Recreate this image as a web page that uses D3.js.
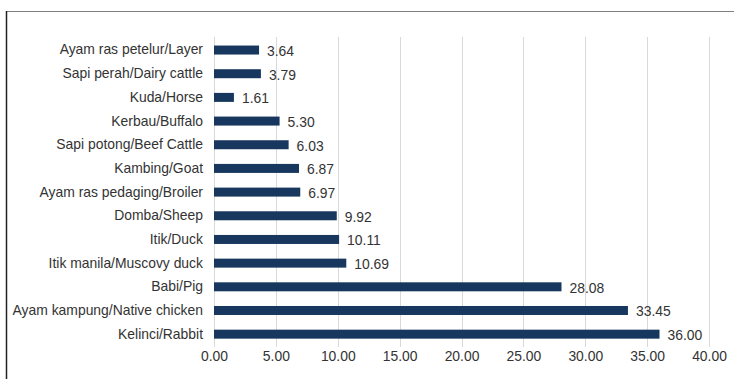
<!DOCTYPE html>
<html>
<head>
<meta charset="utf-8">
<script src="https://cdn.jsdelivr.net/npm/d3@7"></script>
<style>
  html, body { margin: 0; padding: 0; background: #fff; }
  svg { display: block; }
</style>
</head>
<body>
<svg id="chart" width="734" height="379"></svg>
<script>
// Livestock categories, top to bottom
const categories = [
  "Ayam ras petelur/Layer",
  "Sapi perah/Dairy cattle",
  "Kuda/Horse",
  "Kerbau/Buffalo",
  "Sapi potong/Beef Cattle",
  "Kambing/Goat",
  "Ayam ras pedaging/Broiler",
  "Domba/Sheep",
  "Itik/Duck",
  "Itik manila/Muscovy duck",
  "Babi/Pig",
  "Ayam kampung/Native chicken",
  "Kelinci/Rabbit"
];
const values = [3.64, 3.79, 1.61, 5.30, 6.03, 6.87, 6.97, 9.92, 10.11, 10.69, 28.08, 33.45, 36.00];
const xTicks = [0, 5, 10, 15, 20, 25, 30, 35, 40];

const svg = d3.select("#chart");
const font = "'Liberation Sans', Arial, sans-serif";
const fontSize = 13.9;
const textColor = "#333";

// Frame of the chart area
svg.append("line").attr("x1", 6).attr("x2", 734).attr("y1", 11.5).attr("y2", 11.5)
  .attr("stroke", "#7f7f7f").attr("stroke-width", 1.2);
svg.append("line").attr("x1", 6.5).attr("x2", 6.5).attr("y1", 11).attr("y2", 379)
  .attr("stroke", "#222").attr("stroke-width", 1.5);

const x = d3.scaleLinear().domain([0, 40]).range([214, 709]);
const y = d3.scaleBand().domain(categories).range([38.2, 346]).paddingInner(0.62).paddingOuter(0.31);

// Vertical gridlines
svg.append("g").selectAll("line").data(xTicks).join("line")
  .attr("x1", d => Math.round(x(d)) + 0.5).attr("x2", d => Math.round(x(d)) + 0.5)
  .attr("y1", 37).attr("y2", 347)
  .attr("stroke", "#d9d9d9").attr("stroke-width", 1);

// X axis tick labels
const xAxis = d3.axisBottom(x).tickValues(xTicks).tickFormat(d3.format(".2f")).tickSize(0).tickPadding(0);
const gx = svg.append("g").attr("transform", "translate(0,351)").call(xAxis);
gx.select(".domain").remove();
gx.selectAll("text").attr("font-family", font).attr("font-size", fontSize).attr("fill", textColor).attr("dy", "0.71em");

// Category labels
const yAxis = d3.axisLeft(y).tickSize(0).tickPadding(0);
const gy = svg.append("g").attr("transform", "translate(203,0)").call(yAxis);
gy.select(".domain").remove();
gy.selectAll("text").attr("font-family", font).attr("font-size", fontSize).attr("fill", textColor);

// Bars
svg.append("g").selectAll("rect").data(values).join("rect")
  .attr("x", x(0))
  .attr("y", (d, i) => y(categories[i]))
  .attr("width", d => x(d) - x(0))
  .attr("height", y.bandwidth())
  .attr("fill", "#17375e");

// Value labels
svg.append("g").selectAll("text").data(values).join("text")
  .attr("x", d => x(d) + 8)
  .attr("y", (d, i) => y(categories[i]) + y.bandwidth() / 2 + 1)
  .attr("dy", "0.35em")
  .attr("font-family", font).attr("font-size", fontSize).attr("fill", textColor)
  .text(d => d3.format(".2f")(d));
</script>
</body>
</html>
